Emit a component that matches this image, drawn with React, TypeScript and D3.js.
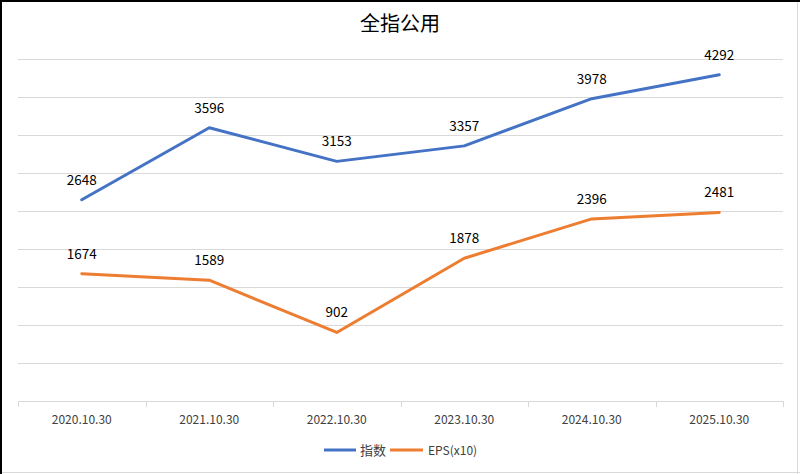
import React from "react";
import * as d3 from "d3";

const categories = ["2020.10.30", "2021.10.30", "2022.10.30", "2023.10.30", "2024.10.30", "2025.10.30"];
const indexValues = [2648, 3596, 3153, 3357, 3978, 4292];
const epsValues = [1674, 1589, 902, 1878, 2396, 2481];
const seriesNames = ["指数", "EPS(x10)"];
const yTicks = [0, 500, 1000, 1500, 2000, 2500, 3000, 3500, 4000, 4500];

const W = 800;
const H = 474;
const left = 18;
const right = 783;
const top = 59;
const bottom = 401;

export default function App() {
  const x = d3.scaleBand<string>().domain(categories).range([left, right]).padding(0);
  const y = d3.scaleLinear().domain([0, 4500]).range([bottom, top]);
  const cx = (c: string) => (x(c) as number) + x.bandwidth() / 2;
  const line = d3
    .line<number>()
    .x((_, i) => cx(categories[i]))
    .y((d) => y(d));
  const series = [
    { name: seriesNames[0], values: indexValues, color: "#4472C4" },
    { name: seriesNames[1], values: epsValues, color: "#ED7D31" },
  ];
  const font = "'Noto Sans CJK SC', 'Noto Sans', sans-serif";
  const boundaries = categories.map((c) => x(c) as number).concat([right]);
  return (
    <svg
      width={W}
      height={H}
      style={{ position: "absolute", left: 0, top: 0, display: "block", background: "#fff" }}
    >
      <rect x={0} y={0} width={W} height={H} fill="#fff" />
      {/* frame */}
      <line x1={797.5} y1={0} x2={797.5} y2={H} stroke="#d9d9d9" />
      <line x1={0} y1={472.5} x2={W} y2={472.5} stroke="#d9d9d9" />
      <line x1={0} y1={1} x2={W} y2={1} stroke="#000" strokeWidth={2} />
      <line x1={1} y1={0} x2={1} y2={H} stroke="#000" strokeWidth={2} />
      <text x={400} y={31} textAnchor="middle" fontFamily={font} fontSize={20} fill="#000">
        全指公用
      </text>
      {/* gridlines */}
      {yTicks.slice(1).map((t) => (
        <line key={t} x1={left} x2={right} y1={Math.round(y(t)) + 0.5} y2={Math.round(y(t)) + 0.5} stroke="#d9d9d9" />
      ))}
      {/* axis */}
      <line x1={left} x2={right} y1={bottom + 0.5} y2={bottom + 0.5} stroke="#d9d9d9" />
      {boundaries.map((b, i) => (
        <line key={i} x1={Math.round(b) + 0.5} x2={Math.round(b) + 0.5} y1={bottom} y2={bottom + 6} stroke="#d9d9d9" />
      ))}
      {categories.map((c) => (
        <text key={c} x={cx(c)} y={424} textAnchor="middle" fontFamily={font} fontSize={12} fill="#404040">
          {c}
        </text>
      ))}
      {series.map((s) => (
        <g key={s.name}>
          <path d={line(s.values) || ""} fill="none" stroke={s.color} strokeWidth={3} strokeLinejoin="round" strokeLinecap="round" />
          {s.values.map((v, i) => (
            <text key={i} x={cx(categories[i])} y={y(v) - 15} textAnchor="middle" fontFamily={font} fontSize={13.5} fill="#000">
              {v}
            </text>
          ))}
        </g>
      ))}
      {/* legend */}
      <line x1={324} x2={356} y1={450} y2={450} stroke={series[0].color} strokeWidth={3} />
      <text x={360} y={455} fontFamily={font} fontSize={13} fill="#404040">
        {series[0].name}
      </text>
      <line x1={390} x2={423} y1={450} y2={450} stroke={series[1].color} strokeWidth={3} />
      <text x={428} y={455} fontFamily={font} fontSize={12} fill="#404040">
        {series[1].name}
      </text>
    </svg>
  );
}
